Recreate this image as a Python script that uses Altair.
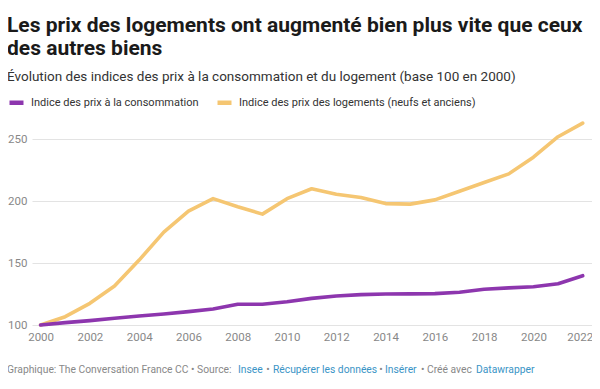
import altair as alt
import pandas as pd

years = list(range(2000, 2023))
ipc = [100, 101.9, 103.5, 105.4, 107.3, 108.9, 110.8, 112.9, 116.7, 116.7, 118.8,
       121.5, 123.4, 124.5, 125.0, 125.1, 125.3, 126.4, 128.8, 130.0, 130.9, 133.3, 139.8]
logement = [100, 106.7, 117.5, 131.5, 152.4, 175.0, 192.0, 202.0, 195.5, 189.5, 202.0,
            210.0, 205.5, 203.0, 198.0, 197.6, 201.0, 208.0, 215.0, 222.0, 235.5, 252.0, 263.0]
series_names = ["Indice des prix à la consommation",
                "Indice des prix des logements (neufs et anciens)"]
colors = ["#8d36ae", "#f5c672"]
y_ticks = [100, 150, 200, 250]
x_ticks = list(range(2000, 2023, 2))

title_lines = ["Les prix des logements ont augmenté bien plus vite que ceux", "des autres biens"]
subtitle = "Évolution des indices des prix à la consommation et du logement (base 100 en 2000)"

footer_parts = [
    ("Graphique: The Conversation France CC • Source:", "#888888", -25, "left"),
    ("Insee", "#3a94c6", 206, "left"),
    ("•", "#888888", 236, "center"),
    ("Récupérer les données", "#3a94c6", 241, "left"),
    ("•", "#888888", 349, "center"),
    ("Insérer", "#3a94c6", 353, "left"),
    ("• Créé avec", "#888888", 389, "left"),
    ("Datawrapper", "#3a94c6", 444, "left"),
]

rows = []
for i, y in enumerate(years):
    rows.append({"year": y, "value": logement[i], "series": series_names[1], "ord": 0})
    rows.append({"year": y, "value": ipc[i], "series": series_names[0], "ord": 1})
df = pd.DataFrame(rows)

lines = alt.Chart(df).mark_line(strokeWidth=3.6, strokeCap="round", strokeJoin="round").encode(
    x=alt.X("year:Q",
            scale=alt.Scale(domain=[1999.651, 2022.377], nice=False, zero=False),
            axis=alt.Axis(values=x_ticks, format="d", title=None, grid=False, domain=False,
                          ticks=False, labelFontSize=11.5, labelColor="#888888", labelPadding=6,
                          labelFont="Roboto",
                          labelOffset=alt.expr("datum.value == 2022 ? -3 : 0"))),
    y=alt.Y("value:Q",
            scale=alt.Scale(domain=[100, 265.5], nice=False, zero=False),
            axis=alt.Axis(values=y_ticks, title=None, domain=False, ticks=False,
                          gridColor="#e3e3e3", gridWidth=1, labelFontSize=11.5,
                          labelColor="#888888", labelPadding=5, labelFont="Roboto")),
    color=alt.Color("series:N",
                    scale=alt.Scale(domain=series_names, range=colors),
                    legend=alt.Legend(orient="none", legendX=-25, legendY=-27,
                                      direction="horizontal", title=None,
                                      symbolType="stroke", symbolSize=196,
                                      symbolStrokeWidth=4.5, labelFontSize=11,
                                      labelColor="#333333", labelFont="Roboto",
                                      labelLimit=400, labelOffset=5, columnPadding=9)),
    order=alt.Order("ord:Q"),
)

footer_layers = []
for text, col, xpos, al in footer_parts:
    footer_layers.append(
        alt.Chart(pd.DataFrame({"t": [text]})).mark_text(
            align=al, baseline="middle", fontSize=10.3, font="Roboto", color=col
        ).encode(text="t:N", x=alt.value(xpos), y=alt.value(250))
    )

chart = alt.layer(lines, *footer_layers).properties(
    width=560, height=205,
    padding={"left": 24, "top": 112, "right": 0, "bottom": 56},
    autosize=alt.AutoSizeParams(type="none"),
    title=alt.TitleParams(
        text=title_lines, subtitle=subtitle, anchor="start", frame="group", dx=-25,
        fontSize=21, fontWeight="bold", font="Roboto", color="#1a1a1a", lineHeight=23,
        subtitleFontSize=13.5, subtitleFont="Roboto", subtitleColor="#333333",
        subtitlePadding=11, offset=10,
    ),
).configure(font="Roboto").configure_view(stroke=None)

chart.save("out.html", embed_options={"renderer": "svg", "actions": False})
